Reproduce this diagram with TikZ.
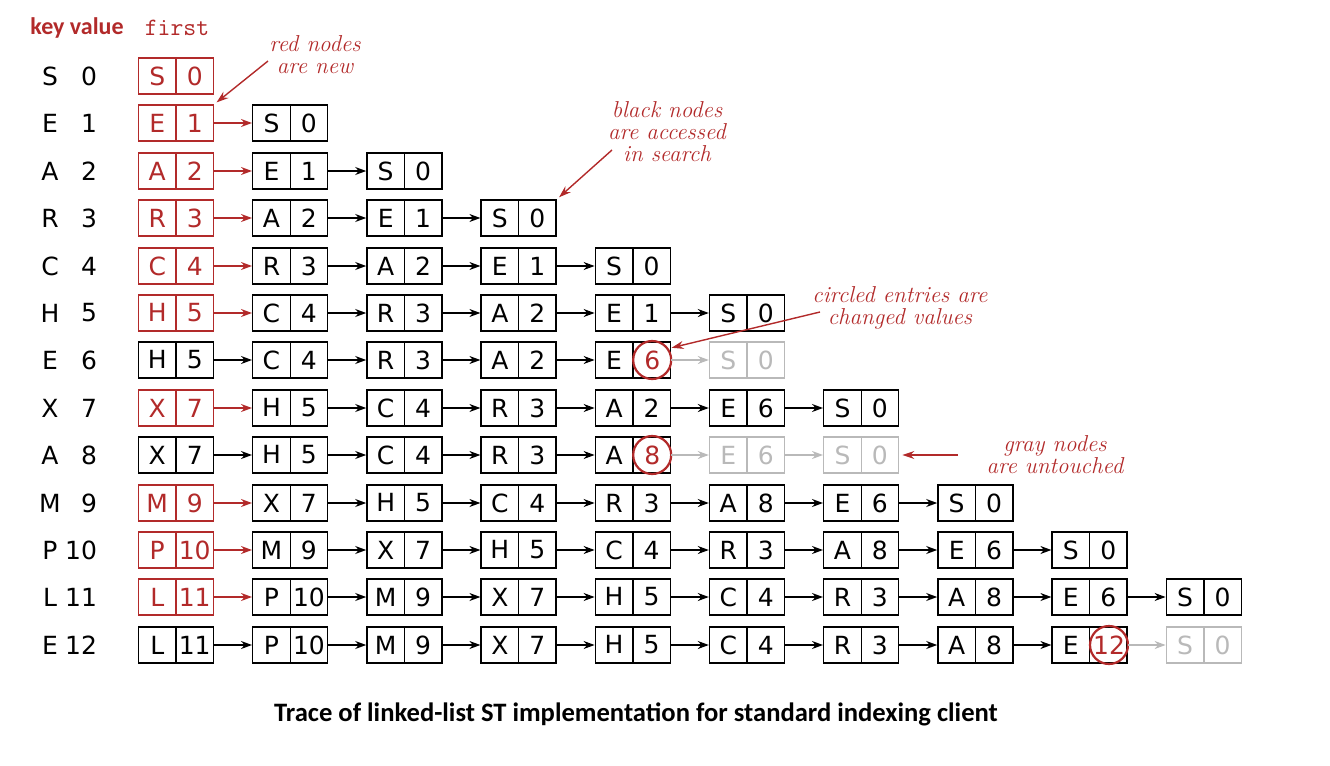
\documentclass[tikz,border=0pt]{standalone}
\usepackage{fontspec}
\newfontfamily\cellfont{DejaVu Sans}
\newfontfamily\capfont{Carlito}
\usetikzlibrary{positioning,arrows.meta}
\definecolor{bookred}{RGB}{178,42,42}
\definecolor{untouched}{RGB}{185,185,185}
\newcommand{\kv}[2]{\makebox[18.75pt]{#1}\makebox[18.75pt]{#2}}

\begin{document}
\begin{tikzpicture}[x=0.5pt,y=-0.5pt,node distance=18.9pt,
  font=\cellfont\fontsize{12.5}{14}\selectfont,
  cell/.style={draw,line width=0.7pt,minimum width=37.5pt,minimum height=18pt,inner sep=0pt,
    path picture={\draw[line width=0.7pt] (path picture bounding box.north) -- (path picture bounding box.south);}},
  newcell/.style={cell,color=bookred},
  oldcell/.style={cell,color=untouched},
  chg/.style={circle,draw=bookred,line width=1.1pt,minimum size=19pt,inner sep=0pt,text=bookred},
  nxt/.style={line width=0.7pt,-{Stealth[length=5.5pt,width=4pt]}},
  note/.style={bookred,align=center,font=\rmfamily\itshape\fontsize{11.5}{11}\selectfont},
  ann/.style={bookred,line width=0.7pt,-{Stealth[length=6pt,width=4pt]},shorten >=1.5pt}]

\useasboundingbox (0,0) rectangle (1330,766);

\node[bookred,font=\capfont\bfseries\fontsize{12}{14}\selectfont] (hkey) at (77,28) {key value};
\node[bookred,font=\ttfamily\fontsize{12.5}{14}\selectfont] (hfirst) at (177,28) {first};

% keys and values
\node (k0) at (50,76) {S};   \node[anchor=east] (v0) at (104,76) {0};
\node (k1) at (50,123) {E};  \node[anchor=east] (v1) at (104,123) {1};
\node (k2) at (50,171) {A};  \node[anchor=east] (v2) at (104,171) {2};
\node (k3) at (50,218) {R};  \node[anchor=east] (v3) at (104,218) {3};
\node (k4) at (50,266) {C};  \node[anchor=east] (v4) at (104,266) {4};
\node (k5) at (50,313) {H};  \node[anchor=east] (v5) at (104,313) {5};
\node (k6) at (50,360) {E};  \node[anchor=east] (v6) at (104,360) {6};
\node (k7) at (50,408) {X};  \node[anchor=east] (v7) at (104,408) {7};
\node (k8) at (50,455) {A};  \node[anchor=east] (v8) at (104,455) {8};
\node (k9) at (50,503) {M};  \node[anchor=east] (v9) at (104,503) {9};
\node (k10) at (50,550) {P}; \node[anchor=east] (v10) at (104,550) {10};
\node (k11) at (50,597) {L}; \node[anchor=east] (v11) at (104,597) {11};
\node (k12) at (50,645) {E}; \node[anchor=east] (v12) at (104,645) {12};

% S 0
\node[newcell] (r0a) at (176,76) {\kv{S}{0}};

% E 1
\node[newcell] (r1a) at (176,123) {\kv{E}{1}};
\node[cell,right=of r1a] (r1b) {\kv{S}{0}};
\draw[nxt,bookred] (r1a) -- (r1b);

% A 2
\node[newcell] (r2a) at (176,171) {\kv{A}{2}};
\node[cell,right=of r2a] (r2b) {\kv{E}{1}};
\node[cell,right=of r2b] (r2c) {\kv{S}{0}};
\draw[nxt,bookred] (r2a) -- (r2b);
\draw[nxt] (r2b) -- (r2c);

% R 3
\node[newcell] (r3a) at (176,218) {\kv{R}{3}};
\node[cell,right=of r3a] (r3b) {\kv{A}{2}};
\node[cell,right=of r3b] (r3c) {\kv{E}{1}};
\node[cell,right=of r3c] (r3d) {\kv{S}{0}};
\draw[nxt,bookred] (r3a) -- (r3b);
\draw[nxt] (r3b) -- (r3c); \draw[nxt] (r3c) -- (r3d);

% C 4
\node[newcell] (r4a) at (176,266) {\kv{C}{4}};
\node[cell,right=of r4a] (r4b) {\kv{R}{3}};
\node[cell,right=of r4b] (r4c) {\kv{A}{2}};
\node[cell,right=of r4c] (r4d) {\kv{E}{1}};
\node[cell,right=of r4d] (r4e) {\kv{S}{0}};
\draw[nxt,bookred] (r4a) -- (r4b);
\draw[nxt] (r4b) -- (r4c); \draw[nxt] (r4c) -- (r4d); \draw[nxt] (r4d) -- (r4e);

% H 5
\node[newcell] (r5a) at (176,313) {\kv{H}{5}};
\node[cell,right=of r5a] (r5b) {\kv{C}{4}};
\node[cell,right=of r5b] (r5c) {\kv{R}{3}};
\node[cell,right=of r5c] (r5d) {\kv{A}{2}};
\node[cell,right=of r5d] (r5e) {\kv{E}{1}};
\node[cell,right=of r5e] (r5f) {\kv{S}{0}};
\draw[nxt,bookred] (r5a) -- (r5b);
\draw[nxt] (r5b) -- (r5c); \draw[nxt] (r5c) -- (r5d); \draw[nxt] (r5d) -- (r5e);
\draw[nxt] (r5e) -- (r5f);

% E 6
\node[cell] (r6a) at (176,360) {\kv{H}{5}};
\node[cell,right=of r6a] (r6b) {\kv{C}{4}};
\node[cell,right=of r6b] (r6c) {\kv{R}{3}};
\node[cell,right=of r6c] (r6d) {\kv{A}{2}};
\node[cell,right=of r6d] (r6e) {\kv{E}{}};
\node[oldcell,right=of r6e] (r6f) {\kv{S}{0}};
\node[chg] (r6x) at ([xshift=-9.4pt]r6e.east) {6};
\draw[nxt] (r6a) -- (r6b); \draw[nxt] (r6b) -- (r6c); \draw[nxt] (r6c) -- (r6d);
\draw[nxt] (r6d) -- (r6e);
\draw[nxt,untouched] (r6e) -- (r6f);

% X 7
\node[newcell] (r7a) at (176,408) {\kv{X}{7}};
\node[cell,right=of r7a] (r7b) {\kv{H}{5}};
\node[cell,right=of r7b] (r7c) {\kv{C}{4}};
\node[cell,right=of r7c] (r7d) {\kv{R}{3}};
\node[cell,right=of r7d] (r7e) {\kv{A}{2}};
\node[cell,right=of r7e] (r7f) {\kv{E}{6}};
\node[cell,right=of r7f] (r7g) {\kv{S}{0}};
\draw[nxt,bookred] (r7a) -- (r7b);
\draw[nxt] (r7b) -- (r7c); \draw[nxt] (r7c) -- (r7d); \draw[nxt] (r7d) -- (r7e);
\draw[nxt] (r7e) -- (r7f); \draw[nxt] (r7f) -- (r7g);

% A 8
\node[cell] (r8a) at (176,455) {\kv{X}{7}};
\node[cell,right=of r8a] (r8b) {\kv{H}{5}};
\node[cell,right=of r8b] (r8c) {\kv{C}{4}};
\node[cell,right=of r8c] (r8d) {\kv{R}{3}};
\node[cell,right=of r8d] (r8e) {\kv{A}{}};
\node[oldcell,right=of r8e] (r8f) {\kv{E}{6}};
\node[oldcell,right=of r8f] (r8g) {\kv{S}{0}};
\node[chg] (r8x) at ([xshift=-9.4pt]r8e.east) {8};
\draw[nxt] (r8a) -- (r8b); \draw[nxt] (r8b) -- (r8c); \draw[nxt] (r8c) -- (r8d);
\draw[nxt] (r8d) -- (r8e);
\draw[nxt,untouched] (r8e) -- (r8f); \draw[nxt,untouched] (r8f) -- (r8g);

% M 9
\node[newcell] (r9a) at (176,503) {\kv{M}{9}};
\node[cell,right=of r9a] (r9b) {\kv{X}{7}};
\node[cell,right=of r9b] (r9c) {\kv{H}{5}};
\node[cell,right=of r9c] (r9d) {\kv{C}{4}};
\node[cell,right=of r9d] (r9e) {\kv{R}{3}};
\node[cell,right=of r9e] (r9f) {\kv{A}{8}};
\node[cell,right=of r9f] (r9g) {\kv{E}{6}};
\node[cell,right=of r9g] (r9h) {\kv{S}{0}};
\draw[nxt,bookred] (r9a) -- (r9b);
\draw[nxt] (r9b) -- (r9c); \draw[nxt] (r9c) -- (r9d); \draw[nxt] (r9d) -- (r9e);
\draw[nxt] (r9e) -- (r9f); \draw[nxt] (r9f) -- (r9g); \draw[nxt] (r9g) -- (r9h);

% P 10
\node[newcell] (r10a) at (176,550) {\kv{P}{10}};
\node[cell,right=of r10a] (r10b) {\kv{M}{9}};
\node[cell,right=of r10b] (r10c) {\kv{X}{7}};
\node[cell,right=of r10c] (r10d) {\kv{H}{5}};
\node[cell,right=of r10d] (r10e) {\kv{C}{4}};
\node[cell,right=of r10e] (r10f) {\kv{R}{3}};
\node[cell,right=of r10f] (r10g) {\kv{A}{8}};
\node[cell,right=of r10g] (r10h) {\kv{E}{6}};
\node[cell,right=of r10h] (r10i) {\kv{S}{0}};
\draw[nxt,bookred] (r10a) -- (r10b);
\draw[nxt] (r10b) -- (r10c); \draw[nxt] (r10c) -- (r10d); \draw[nxt] (r10d) -- (r10e);
\draw[nxt] (r10e) -- (r10f); \draw[nxt] (r10f) -- (r10g); \draw[nxt] (r10g) -- (r10h);
\draw[nxt] (r10h) -- (r10i);

% L 11
\node[newcell] (r11a) at (176,597) {\kv{L}{11}};
\node[cell,right=of r11a] (r11b) {\kv{P}{10}};
\node[cell,right=of r11b] (r11c) {\kv{M}{9}};
\node[cell,right=of r11c] (r11d) {\kv{X}{7}};
\node[cell,right=of r11d] (r11e) {\kv{H}{5}};
\node[cell,right=of r11e] (r11f) {\kv{C}{4}};
\node[cell,right=of r11f] (r11g) {\kv{R}{3}};
\node[cell,right=of r11g] (r11h) {\kv{A}{8}};
\node[cell,right=of r11h] (r11i) {\kv{E}{6}};
\node[cell,right=of r11i] (r11j) {\kv{S}{0}};
\draw[nxt,bookred] (r11a) -- (r11b);
\draw[nxt] (r11b) -- (r11c); \draw[nxt] (r11c) -- (r11d); \draw[nxt] (r11d) -- (r11e);
\draw[nxt] (r11e) -- (r11f); \draw[nxt] (r11f) -- (r11g); \draw[nxt] (r11g) -- (r11h);
\draw[nxt] (r11h) -- (r11i); \draw[nxt] (r11i) -- (r11j);

% E 12
\node[cell] (r12a) at (176,645) {\kv{L}{11}};
\node[cell,right=of r12a] (r12b) {\kv{P}{10}};
\node[cell,right=of r12b] (r12c) {\kv{M}{9}};
\node[cell,right=of r12c] (r12d) {\kv{X}{7}};
\node[cell,right=of r12d] (r12e) {\kv{H}{5}};
\node[cell,right=of r12e] (r12f) {\kv{C}{4}};
\node[cell,right=of r12f] (r12g) {\kv{R}{3}};
\node[cell,right=of r12g] (r12h) {\kv{A}{8}};
\node[cell,right=of r12h] (r12i) {\kv{E}{}};
\node[oldcell,right=of r12i] (r12j) {\kv{S}{0}};
\node[chg] (r12x) at ([xshift=-9.4pt]r12i.east) {12};
\draw[nxt] (r12a) -- (r12b); \draw[nxt] (r12b) -- (r12c); \draw[nxt] (r12c) -- (r12d);
\draw[nxt] (r12d) -- (r12e); \draw[nxt] (r12e) -- (r12f); \draw[nxt] (r12f) -- (r12g);
\draw[nxt] (r12g) -- (r12h); \draw[nxt] (r12h) -- (r12i);
\draw[nxt,untouched] (r12i) -- (r12j);

% notes
\node[note] (notenew) at (315,55) {red nodes\\are new};
\node[note] (noteblack) at (667,132) {black nodes\\are accessed\\in search};
\node[note] (notecirc) at (900,308) {circled entries are\\changed values};
\node[note] (notegray) at (1055,455) {gray nodes\\are untouched};
\coordinate (pnew) at (268,61);
\coordinate (pblack) at (612,150);
\coordinate (pcirc) at (820,312);
\coordinate (pgray) at (958,455);
\draw[ann] (pnew) -- (r1a.north east);
\draw[ann] (pblack) -- (r3d.north east);
\draw[ann] (pcirc) -- (r6x.35);
\draw[ann] (pgray) -- (r8g);

\node[font=\capfont\bfseries\fontsize{13.3}{15}\selectfont] (cap) at (636,714)
  {Trace of linked-list ST implementation for standard indexing client};
\end{tikzpicture}
\end{document}
